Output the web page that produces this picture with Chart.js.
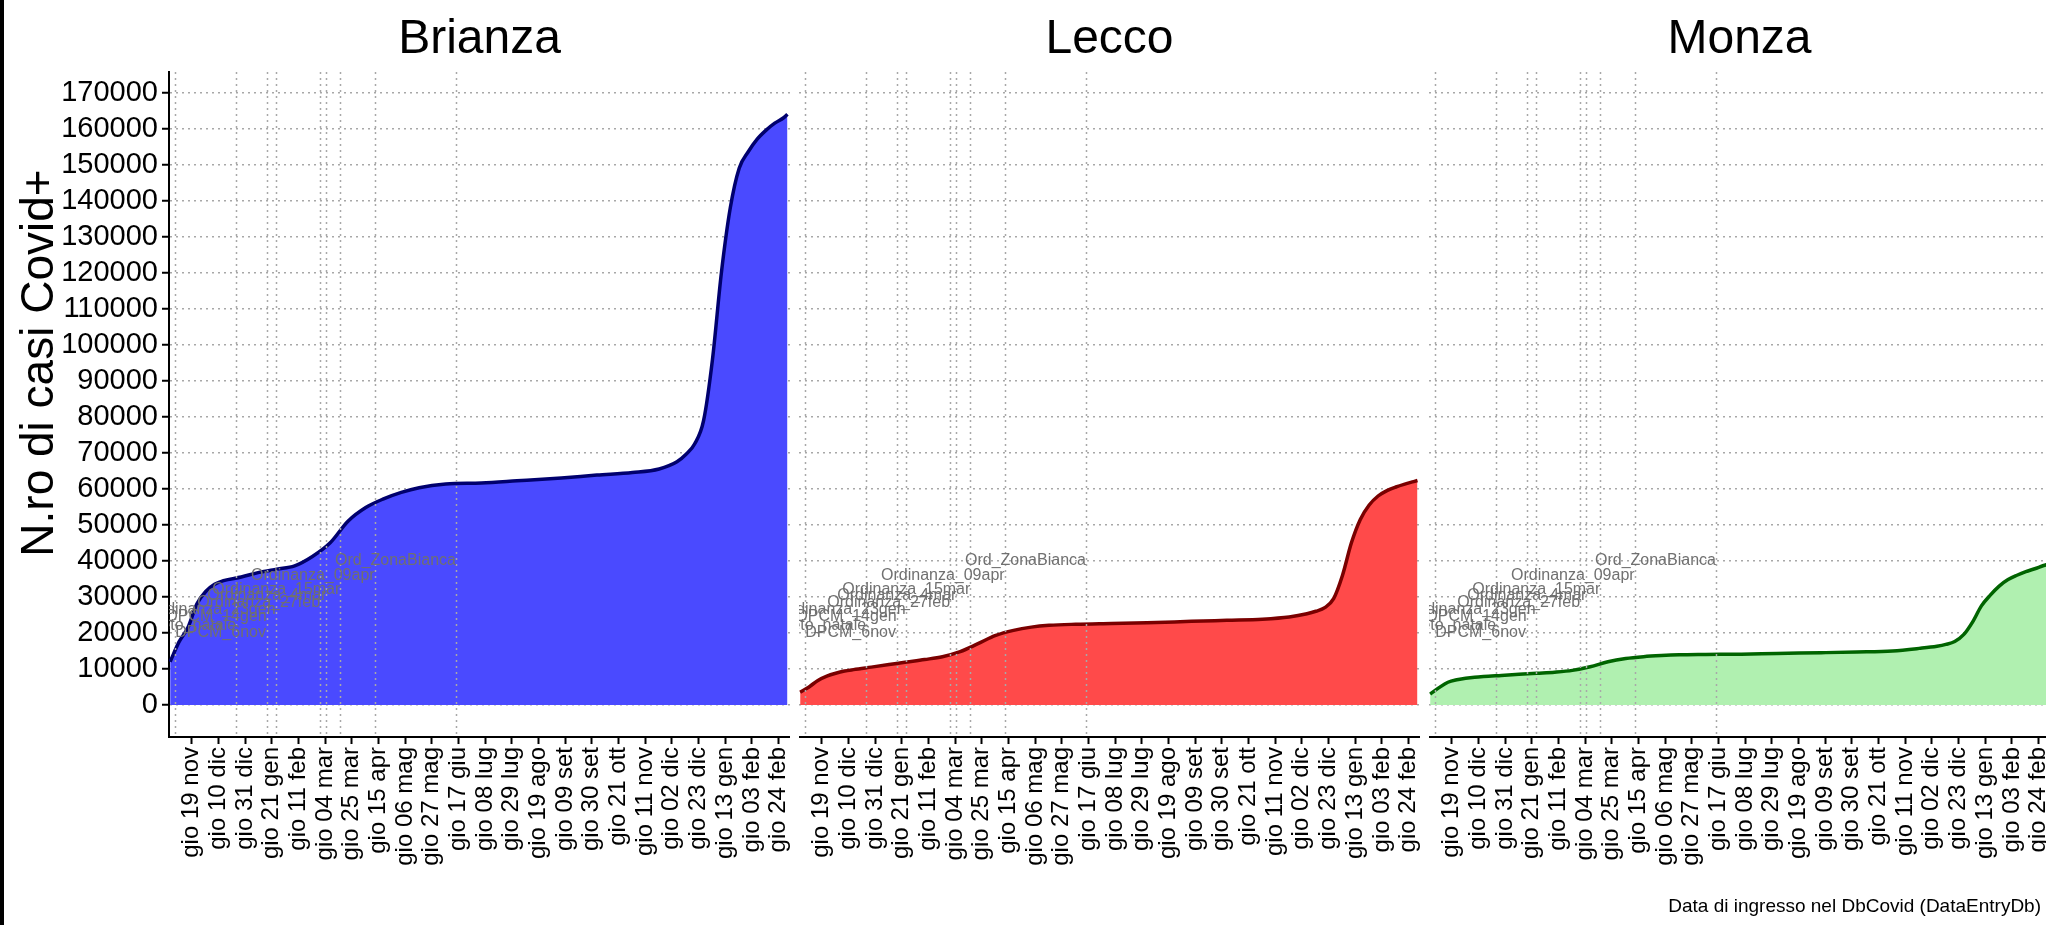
<!DOCTYPE html>
<html>
<head>
<meta charset="utf-8">
<script src="https://cdn.jsdelivr.net/npm/chart.js@4.4.0/dist/chart.umd.min.js"></script>
<style>
  body { margin: 0; background: #fff; width: 2046px; height: 925px; overflow: hidden; position: relative; font-family: 'Liberation Sans', Arial, sans-serif; }
  #edge { position: absolute; left: 0; top: 0; width: 4px; height: 925px; background: #000; }
  canvas { position: absolute; top: 0; }
  #note { position: absolute; right: 5px; top: 895px; font-size: 19px; color: #000; }
</style>
</head>
<body>
<div id="edge"></div>
<canvas id="brianza" width="790" height="925" style="left:0px"></canvas>
<canvas id="lecco" width="621" height="925" style="left:799px"></canvas>
<canvas id="monza" width="621" height="925" style="left:1429px"></canvas>
<div id="note">Data di ingresso nel DbCovid (DataEntryDb)</div>
<script>
//Data
const dates = [
  '2020-11-02', '2020-11-09', '2020-11-16', '2020-11-23', '2020-11-30', '2020-12-07', '2020-12-14',
  '2020-12-28', '2021-01-11', '2021-01-25', '2021-02-08', '2021-02-22', '2021-03-08', '2021-03-22',
  '2021-04-05', '2021-04-19', '2021-05-03', '2021-05-17', '2021-06-07', '2021-07-05', '2021-08-02',
  '2021-09-06', '2021-10-04', '2021-11-01', '2021-11-22', '2021-12-06', '2021-12-13', '2021-12-20',
  '2021-12-27', '2022-01-03', '2022-01-10', '2022-01-17', '2022-01-24', '2022-01-31', '2022-02-07',
  '2022-02-14', '2022-02-21', '2022-02-28', '2022-03-03'
];
const brianza = [
  12000, 17500, 21500, 28000, 31500, 33500, 34500, 35500, 36800, 37700, 38600, 41200, 45000, 51000,
  54800, 57200, 59000, 60300, 61300, 61600, 62200, 63000, 63800, 64500, 65500, 67500, 69500, 72500,
  79000, 96000, 120000, 138000, 149000, 153500, 157000, 159500, 161500, 163000, 164000
];
const lecco = [
  3500, 5000, 6800, 8000, 8800, 9400, 9800, 10500, 11200, 11900, 12600, 13400, 14800, 17000,
  19300, 20700, 21600, 22100, 22400, 22600, 22800, 23200, 23500, 23800, 24400, 25300, 26000, 27000,
  29500, 36000, 45000, 51500, 55500, 58000, 59500, 60500, 61300, 62000, 62300
];
const monza = [
  3000, 4800, 6300, 7000, 7400, 7700, 7900, 8200, 8500, 8800, 9100, 9600, 10600, 12000,
  12900, 13400, 13700, 13900, 14000, 14100, 14300, 14500, 14700, 15000, 15700, 16300, 16800, 17600,
  19500, 23000, 27500, 30500, 33000, 34800, 36000, 37000, 37800, 38700, 39000
];
const tickLabels = [
  'gio 19 nov', 'gio 10 dic', 'gio 31 dic', 'gio 21 gen', 'gio 11 feb', 'gio 04 mar', 'gio 25 mar',
  'gio 15 apr', 'gio 06 mag', 'gio 27 mag', 'gio 17 giu', 'gio 08 lug', 'gio 29 lug', 'gio 19 ago',
  'gio 09 set', 'gio 30 set', 'gio 21 ott', 'gio 11 nov', 'gio 02 dic', 'gio 23 dic', 'gio 13 gen',
  'gio 03 feb', 'gio 24 feb'
];
const yTicks = [0, 10000, 20000, 30000, 40000, 50000, 60000, 70000, 80000, 90000, 100000, 110000,
  120000, 130000, 140000, 150000, 160000, 170000];
const eventNames = [
  'DPCM_6nov', 'Decreto_natale', 'DPCM_14gen', 'Ordinanza_23gen', 'Ordinanza_27feb', 'Ordinanza_4mar',
  'Ordinanza_15mar', 'Ordinanza_09apr', 'Ord_ZonaBianca'
];
const eventDates = [
  '2020-11-06', '2020-12-24', '2021-01-17', '2021-01-24', '2021-02-28', '2021-03-05',
  '2021-03-16', '2021-04-12', '2021-06-15'
];
const eventLevels = [20000, 22000, 24500, 26500, 28300, 30300, 32000, 36000, 40000];

const fontFamily = "'Liberation Sans', Arial, sans-serif";
Chart.defaults.font.family = fontFamily;

//days counted from the first tick (gio 19 nov 2020), ticks every 3 weeks
const dayOf = s => {
  const p = s.split('-');
  return (Date.UTC(+p[0], p[1] - 1, +p[2]) - Date.UTC(2020, 10, 19)) / 86400000;
};

const overlay = {
  id: 'overlay',
  afterDatasetsDraw(chart, args, opts) {
    const {ctx, chartArea: a, scales: {x, y}} = chart;
    ctx.save();
    ctx.strokeStyle = '#a8a8a8';
    ctx.lineWidth = 1.5;
    ctx.setLineDash([2, 4]);
    eventDates.forEach(d => {
      const px = Math.round(x.getPixelForValue(dayOf(d))) + 0.5;
      ctx.beginPath();
      ctx.moveTo(px, a.top);
      ctx.lineTo(px, a.bottom);
      ctx.stroke();
    });
    ctx.setLineDash([]);
    ctx.beginPath();
    ctx.rect(a.left, a.top, a.right - a.left, a.bottom - a.top);
    ctx.clip();
    ctx.font = '16px ' + fontFamily;
    ctx.fillStyle = '#707070';
    ctx.textBaseline = 'middle';
    eventNames.forEach((name, i) => {
      ctx.textAlign = i === 0 ? 'left' : 'right';
      ctx.fillText(name, x.getPixelForValue(dayOf(eventDates[i])), y.getPixelForValue(eventLevels[i]));
    });
    ctx.restore();
  },
  afterDraw(chart, args, opts) {
    const {ctx, chartArea: a} = chart;
    ctx.save();
    ctx.fillStyle = '#000';
    ctx.textAlign = 'center';
    ctx.textBaseline = 'middle';
    ctx.font = '48px ' + fontFamily;
    ctx.fillText(opts.title, (a.left + a.right) / 2, 40);
    if (opts.yTitle) {
      ctx.translate(40, 363);
      ctx.rotate(-Math.PI / 2);
      ctx.font = '46px ' + fontFamily;
      ctx.fillText(opts.yTitle, 0, 0);
    }
    ctx.restore();
  }
};

function makeChart(id, title, values, fillColor, lineColor, first) {
  const points = dates.map((d, i) => ({x: dayOf(d), y: values[i]}));
  return new Chart(document.getElementById(id), {
    type: 'line',
    data: {
      datasets: [{
        label: title,
        data: points,
        backgroundColor: fillColor,
        borderColor: lineColor,
        borderWidth: 3.5,
        fill: 'origin',
        pointRadius: 0,
        cubicInterpolationMode: 'monotone'
      }]
    },
    plugins: [overlay],
    options: {
      responsive: false,
      animation: false,
      layout: {padding: {top: 72, left: 0, right: 0, bottom: 0}},
      plugins: {
        legend: {display: false},
        tooltip: {enabled: false},
        overlay: {title: title, yTitle: first ? 'N.ro di casi Covid+' : null}
      },
      scales: {
        x: {
          type: 'linear',
          min: -17.9,
          max: 471,
          afterBuildTicks: s => { s.ticks = tickLabels.map((t, i) => ({value: i * 21})); },
          afterFit: s => { s.height = 188; s.paddingLeft = 0; s.paddingRight = 0; },
          ticks: {
            autoSkip: false,
            minRotation: 90,
            maxRotation: 90,
            padding: 3,
            color: '#000',
            font: {size: 24},
            callback: (v, i) => tickLabels[i]
          },
          grid: {drawOnChartArea: false, drawTicks: true, tickLength: 7, tickColor: '#000', tickWidth: 2},
          border: {display: true, color: '#000', width: 2}
        },
        y: {
          min: -8900,
          max: 175700,
          z: 1,
          afterBuildTicks: s => { s.ticks = yTicks.map(v => ({value: v})); },
          afterFit: s => { s.width = first ? 169 : 0; },
          ticks: {display: first, color: '#000', font: {size: 29}, padding: 4, callback: v => String(v)},
          grid: {color: '#a8a8a8', lineWidth: 1.5, drawTicks: first, tickLength: 7, tickColor: '#000', tickWidth: 2},
          border: {display: first, color: '#000', width: 2, dash: [2, 4]}
        }
      }
    }
  });
}

makeChart('brianza', 'Brianza', brianza, '#4a4aff', '#00006e', true);
makeChart('lecco', 'Lecco', lecco, '#ff4a4a', '#7a0000', false);
makeChart('monza', 'Monza', monza, '#b0f0b0', '#006400', false);
</script>
</body>
</html>
